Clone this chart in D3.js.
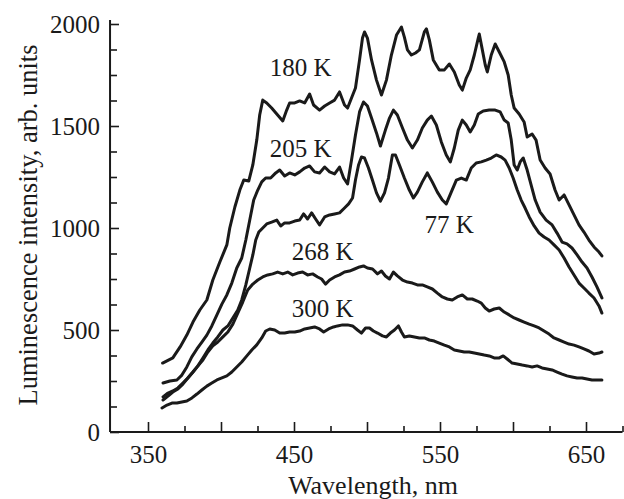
<!DOCTYPE html>
<html><head><meta charset="utf-8">
<script src="https://cdn.jsdelivr.net/npm/d3@7"></script>
<style>body{margin:0;background:#fff}svg text{font-family:"Liberation Serif","Times New Roman",serif;fill:#1a1a1a}</style>
</head><body>
<svg id="c" width="624" height="499"></svg>
<script>
// [wavelength nm, intensity arb. units]
const s180 = [[360,338],[367,363],[372,417],[376.6,475],[380.8,539],[385.5,598],[390.3,647],[394.4,745],[399.2,833],[404,917],[406,1000],[409.5,1103],[412.9,1186],[415.6,1235],[419,1230],[421.8,1309],[424.5,1431],[426.5,1554],[428.6,1627],[431.3,1613],[434.7,1588],[438.2,1559],[442.3,1525],[445,1578],[447,1613],[450.5,1613],[453.9,1623],[457.3,1613],[460.7,1657],[463.4,1603],[467.5,1578],[471,1598],[474.4,1613],[477.8,1627],[481.2,1667],[484.6,1603],[486.7,1588],[489.4,1637],[492.1,1686],[494.9,1824],[496.9,1931],[498.3,1961],[500.3,1931],[503.1,1824],[506.5,1725],[509.9,1652],[513.3,1725],[516.7,1848],[520.2,1946],[523.6,1985],[525.6,1936],[527.7,1873],[530.4,1848],[533.2,1858],[535.9,1873],[539.3,1961],[540.7,1976],[542.7,1922],[545.4,1824],[549.5,1775],[553,1775],[556.4,1804],[559.8,1765],[563.2,1701],[565.3,1676],[568,1735],[570.7,1775],[573.5,1848],[576.2,1931],[576.9,1951],[579,1873],[581,1799],[582.4,1765],[585.1,1848],[587.8,1902],[590.6,1863],[594,1814],[596.7,1750],[598.8,1652],[600.8,1588],[604.2,1559],[607.6,1520],[609.7,1446],[613.1,1461],[615.8,1431],[618.6,1333],[622,1294],[625.4,1265],[628.8,1186],[631.6,1137],[635,1162],[638.4,1113],[641.8,1064],[645.2,1015],[648.6,980],[652,941],[655.5,907],[658.9,882],[660.9,863]];
const s205 = [[360.3,240],[365,250],[369.8,255],[373.2,279],[376.6,319],[380,368],[383.5,407],[386.9,441],[390.3,475],[393.7,520],[397.2,574],[400.6,627],[404,672],[407.4,730],[410.8,804],[414.2,853],[417,941],[419.7,1039],[422.4,1137],[425.2,1186],[427.9,1226],[430.6,1245],[434,1245],[437.5,1270],[440.2,1284],[443.6,1255],[447,1270],[450.5,1260],[453.9,1275],[457.3,1294],[460.7,1304],[464.1,1275],[467.5,1270],[471,1299],[474.4,1275],[477.8,1265],[481.2,1299],[484,1245],[486.7,1216],[489.4,1333],[492.1,1456],[494.9,1569],[497.6,1618],[500.3,1598],[503.1,1539],[506.5,1466],[509.2,1402],[512.6,1480],[515.4,1539],[518.1,1578],[520.8,1554],[524.3,1490],[527.7,1431],[531.1,1392],[534.5,1431],[537.9,1490],[541.3,1529],[544.1,1549],[547.5,1505],[550.9,1422],[554.3,1358],[557.1,1324],[559.8,1392],[562.5,1480],[565.3,1529],[568,1505],[570.7,1471],[573.5,1505],[576.2,1559],[579.6,1574],[583.7,1578],[587.8,1578],[591.2,1569],[594,1529],[596.7,1515],[598.8,1431],[600.8,1309],[602.9,1284],[604.9,1324],[607,1343],[609.7,1284],[612.4,1211],[615.2,1137],[618.6,1078],[622.7,1039],[626.8,1015],[630.2,975],[633.6,931],[637,922],[640.4,902],[643.9,868],[647.3,833],[650.7,804],[654.1,760],[657.5,711],[660.9,657]];
const s77 = [[360.3,157],[363.7,176],[367,196],[370.5,211],[373.9,235],[377.3,265],[380.8,294],[384.2,324],[387.6,363],[391,402],[394.4,436],[397.8,466],[401.3,500],[404.7,520],[408.1,559],[411.5,598],[414.2,647],[417,721],[419.7,804],[421.8,868],[423.8,941],[425.9,980],[428.6,1000],[431.3,1020],[434.7,1029],[438.2,1039],[440.9,1010],[443.6,1025],[447,1025],[450.5,1034],[453.9,1039],[456.6,1069],[459.3,1044],[462.1,1074],[464.8,1044],[467.5,1015],[471,1054],[474.4,1064],[477.8,1069],[481.2,1074],[484.6,1098],[487.4,1118],[490.1,1147],[492.1,1235],[494.2,1309],[496.2,1348],[498.3,1343],[501,1294],[503.7,1235],[506.5,1172],[509.2,1132],[512,1172],[514.7,1245],[517.4,1358],[519.5,1358],[522.2,1309],[525.6,1245],[529,1186],[531.8,1147],[534.5,1176],[537.9,1226],[541.3,1270],[544.7,1226],[548.2,1176],[551.6,1137],[554.3,1118],[557.7,1176],[561.2,1235],[564.6,1245],[568,1235],[571.4,1294],[574.8,1319],[578.3,1324],[581.7,1333],[585.1,1343],[588.5,1358],[591.9,1348],[594.6,1333],[597.4,1294],[600.1,1245],[602.9,1186],[605.6,1137],[608.3,1098],[611.1,1054],[614.5,1010],[617.9,975],[621.3,956],[624.7,941],[628.1,917],[631.6,892],[635,853],[638.4,809],[641.8,770],[645.2,730],[648.6,706],[652,681],[655.5,657],[658.9,618],[660.9,583]];
const s268 = [[360.3,172],[363.7,191],[367,201],[370.5,216],[373.9,240],[377.3,265],[380.8,294],[384.2,324],[387.6,353],[391,392],[394.4,422],[397.8,441],[401.3,466],[404.7,490],[408.1,529],[411.5,583],[414.9,637],[418.3,696],[421.8,725],[425.2,745],[428.6,760],[432,770],[435.4,775],[438.8,784],[442.3,775],[445.7,784],[449.1,770],[452.5,779],[455.9,784],[459.3,770],[462.8,775],[466.2,760],[468.9,750],[471.6,725],[474.4,745],[477.8,760],[481.2,770],[484.6,784],[488,789],[491.5,799],[494.9,809],[497.6,814],[500.3,804],[503.8,799],[507.2,775],[509.9,789],[512.6,765],[515.4,750],[518.1,784],[520.8,765],[524.3,745],[527.7,735],[531.1,730],[534.5,721],[537.9,721],[541.3,711],[544.8,701],[548.2,681],[551.6,662],[555,652],[558.4,647],[561.8,662],[565.3,672],[568.7,652],[572.1,652],[575.5,642],[578.3,632],[581,608],[583.7,593],[587.1,603],[590.6,608],[594,588],[597.4,574],[600.8,559],[604.2,549],[607.6,539],[611.1,529],[614.5,520],[617.9,510],[621.3,495],[624.7,480],[628.1,461],[631.6,451],[635,441],[638.4,431],[641.8,426],[645.2,417],[648.6,407],[652,397],[655.5,382],[658.9,387],[660.9,392]];
const s300 = [[359.6,118],[363,132],[366.4,142],[369.8,142],[373.2,147],[376.6,152],[380.1,167],[383.5,186],[386.9,206],[390.3,225],[393.7,240],[397.2,255],[400.6,265],[404,275],[407.4,294],[410.8,319],[414.2,343],[417.7,373],[421.1,402],[424.5,427],[427.9,461],[430.6,495],[433.4,505],[436.8,500],[440.2,485],[443.6,485],[447,490],[450.5,490],[453.9,495],[457.3,505],[460.7,510],[464.1,515],[467.5,505],[470.3,490],[473.7,505],[477.1,515],[479.8,520],[483.3,525],[486.7,525],[490.1,520],[493.5,500],[496.2,485],[499,510],[501.7,510],[504.4,495],[507.2,485],[510.6,471],[513.3,466],[516,485],[518.8,500],[521.5,520],[523.6,490],[525.6,466],[529,471],[532.5,466],[535.9,461],[539.3,461],[542.7,451],[546.1,446],[549.5,436],[553,426],[556.4,417],[559.8,402],[563.2,397],[566.6,392],[570,392],[573.5,387],[576.9,382],[580.3,377],[583.7,373],[587.1,363],[590.6,363],[593.3,373],[596,358],[599.4,338],[602.9,333],[606.3,328],[609.7,324],[613.1,319],[616.5,324],[619.9,314],[623.4,309],[626.8,304],[630.2,294],[633.6,284],[637,275],[640.4,270],[643.9,265],[647.3,265],[650.7,260],[654.1,255],[657.5,255],[660.9,255]];

const seriesData = [s180, s205, s77, s268, s300];
const seriesNames = ["180 K", "205 K", "77 K", "268 K", "300 K"];
// label anchor (wavelength, intensity) for each series name
const labelWl = [433.4, 433.4, 539.3, 448.4, 448.4];
const labelI = [1745, 1348, 975, 843, 564];

const xTickLabels = [350, 450, 550, 650];
const xMajorTicks = [350, 400, 450, 500, 550, 600, 650];
const xMinorTicks = [375, 425, 475, 525, 575, 625, 675];
const yTickLabels = [0, 500, 1000, 1500, 2000];
const yMinorTicks = [125, 250, 375, 625, 750, 875, 1125, 1250, 1375, 1625, 1750, 1875];

const svg = d3.select('#c');
const x = d3.scaleLinear().domain([350, 650]).range([148, 586]);
const y = d3.scaleLinear().domain([0, 2000]).range([432, 24]);
const ink = '#1a1a1a';

// x axis ticks (inward)
const gxM = svg.append('g').attr('transform', 'translate(0,432)')
  .call(d3.axisTop(x).tickValues(xMajorTicks).tickSize(10).tickFormat(''));
const gxm = svg.append('g').attr('transform', 'translate(0,432)')
  .call(d3.axisTop(x).tickValues(xMinorTicks).tickSize(6).tickFormat(''));
const gxL = svg.append('g').attr('transform', 'translate(0,432)')
  .call(d3.axisBottom(x).tickValues(xTickLabels).tickSize(0).tickPadding(13).tickFormat(d3.format('d')));
// y axis ticks (inward)
const gyM = svg.append('g').attr('transform', 'translate(110,0)')
  .call(d3.axisRight(y).tickValues(yTickLabels).tickSize(9).tickFormat(''));
const gym = svg.append('g').attr('transform', 'translate(110,0)')
  .call(d3.axisRight(y).tickValues(yMinorTicks).tickSize(7).tickFormat(''));
const gyL = svg.append('g').attr('transform', 'translate(110,0)')
  .call(d3.axisLeft(y).tickValues(yTickLabels).tickSize(0).tickPadding(10).tickFormat(d3.format('d')));

[gxM, gxm, gxL, gyM, gym, gyL].forEach(g => {
  g.select('.domain').remove();
  g.selectAll('line').attr('stroke', ink).attr('stroke-width', 1.6);
  g.selectAll('text').attr('font-size', 25).attr('fill', ink)
    .style('font-family', '"Liberation Serif","Times New Roman",serif');
});

// axis lines
svg.append('line').attr('x1', x(324)).attr('x2', x(675)).attr('y1', y(0)).attr('y2', y(0))
  .attr('stroke', ink).attr('stroke-width', 2);
svg.append('line').attr('x1', x(324)).attr('x2', x(324)).attr('y1', y(0)).attr('y2', y(2020))
  .attr('stroke', ink).attr('stroke-width', 2);

// curves
const line = d3.line().x(d => x(d[0])).y(d => y(d[1]));
svg.append('g').selectAll('path').data(seriesData).join('path')
  .attr('d', line).attr('fill', 'none').attr('stroke', ink)
  .attr('stroke-width', 3).attr('stroke-linejoin', 'round').attr('stroke-linecap', 'round');

// series labels
svg.append('g').selectAll('text').data(seriesNames).join('text')
  .attr('x', (d, i) => x(labelWl[i])).attr('y', (d, i) => y(labelI[i]))
  .attr('font-size', 25).text(d => d);

// axis titles
svg.append('text').attr('x', 373).attr('y', 494).attr('text-anchor', 'middle')
  .attr('font-size', 26).text('Wavelength, nm');
svg.append('text').attr('transform', 'translate(37,225) rotate(-90)').attr('text-anchor', 'middle')
  .attr('font-size', 26.5).text('Luminescence intensity, arb. units');
</script>
</body></html>
